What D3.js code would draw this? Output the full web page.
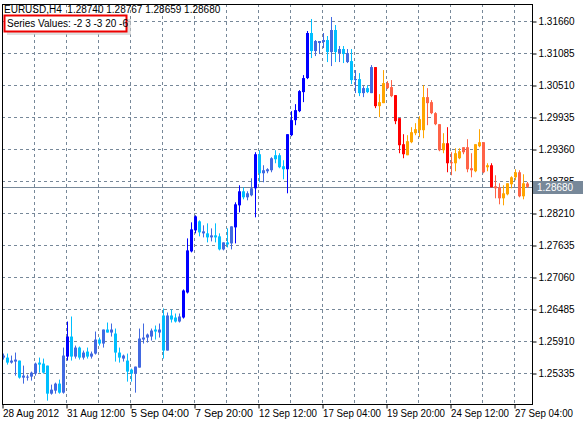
<!DOCTYPE html>
<html><head><meta charset="utf-8">
<script src="https://cdn.jsdelivr.net/npm/d3@7"></script>
<style>body{margin:0;background:#fff;}svg{display:block;font-family:"DejaVu Sans",sans-serif;}</style>
</head><body>
<script>
const high=[1.25684,1.25684,1.25648,1.25702,1.25558,1.25468,1.25306,1.25360,1.25522,1.25612,1.25594,1.25468,1.25126,1.25162,1.25216,1.25792,1.26260,1.26350,1.25828,1.25810,1.25738,1.25792,1.25720,1.26080,1.25972,1.26116,1.26242,1.26224,1.26134,1.25792,1.25666,1.25684,1.25414,1.25450,1.26134,1.26224,1.26044,1.26134,1.26188,1.26224,1.26494,1.26422,1.26476,1.26404,1.26404,1.26836,1.27754,1.28042,1.28168,1.28078,1.27988,1.28024,1.27934,1.28024,1.27844,1.27682,1.27934,1.27970,1.28402,1.28708,1.28672,1.28600,1.28834,1.29302,1.29338,1.29068,1.29014,1.29212,1.29338,1.29284,1.29158,1.29626,1.30040,1.30166,1.30418,1.30688,1.31480,1.31696,1.31318,1.31300,1.31444,1.31390,1.31732,1.31588,1.31210,1.31210,1.31156,1.31156,1.30778,1.30724,1.30490,1.30508,1.30868,1.30832,1.30346,1.30778,1.30580,1.30598,1.30328,1.29914,1.29626,1.29608,1.29752,1.29824,1.29950,1.30508,1.30454,1.30238,1.30022,1.29806,1.29644,1.29752,1.29302,1.29374,1.29374,1.29392,1.29536,1.29284,1.29446,1.29716,1.29482,1.29104,1.29104,1.28888,1.28744,1.28708,1.28744,1.28870,1.28996,1.28978,1.28906,1.28767];
const low=[1.25576,1.25486,1.25504,1.25288,1.25234,1.25144,1.25198,1.25198,1.25288,1.25342,1.25324,1.24838,1.24946,1.24964,1.24964,1.24964,1.25558,1.25558,1.25594,1.25576,1.25576,1.25594,1.25594,1.25666,1.25828,1.25792,1.26062,1.25990,1.25540,1.25522,1.25540,1.25180,1.25180,1.24982,1.25432,1.25864,1.25882,1.25918,1.25936,1.25972,1.25594,1.25738,1.26242,1.26242,1.26242,1.26314,1.26764,1.27502,1.27844,1.27790,1.27772,1.27682,1.27700,1.27682,1.27538,1.27538,1.27592,1.27556,1.27664,1.28222,1.28456,1.28438,1.28510,1.28132,1.28762,1.28762,1.28924,1.28942,1.29104,1.29014,1.28816,1.28564,1.29590,1.29788,1.30022,1.30202,1.30616,1.30994,1.31030,1.31066,1.31174,1.30922,1.30850,1.30922,1.30922,1.30904,1.30904,1.30526,1.30364,1.30310,1.30292,1.30364,1.30364,1.30094,1.29932,1.30184,1.30436,1.30292,1.29806,1.29284,1.29194,1.29248,1.29464,1.29608,1.29572,1.29554,1.29788,1.29986,1.29788,1.29320,1.29284,1.28942,1.28888,1.28960,1.29176,1.29266,1.28942,1.28852,1.28942,1.29392,1.28924,1.28960,1.28672,1.28474,1.28366,1.28348,1.28528,1.28654,1.28798,1.28492,1.28456,1.28659];
const open=[1.25612,1.25522,1.25522,1.25540,1.25252,1.25252,1.25252,1.25270,1.25324,1.25486,1.25342,1.24964,1.24964,1.25018,1.24982,1.24982,1.25630,1.25630,1.25630,1.25612,1.25612,1.25630,1.25630,1.25684,1.25864,1.25864,1.26062,1.26062,1.25702,1.25612,1.25594,1.25360,1.25324,1.25324,1.25432,1.25936,1.25972,1.25990,1.26080,1.26062,1.25738,1.25738,1.26296,1.26260,1.26260,1.26332,1.26782,1.27520,1.27898,1.27862,1.27844,1.27772,1.27772,1.27772,1.27556,1.27556,1.27646,1.27664,1.27952,1.28348,1.28492,1.28492,1.28528,1.28654,1.28924,1.28924,1.28960,1.28978,1.29176,1.29032,1.28996,1.28996,1.29608,1.29878,1.30040,1.30382,1.30634,1.31120,1.31120,1.31264,1.31282,1.31102,1.31102,1.31102,1.31084,1.31066,1.30922,1.30598,1.30598,1.30364,1.30364,1.30382,1.30364,1.30832,1.30202,1.30544,1.30544,1.30472,1.30328,1.29914,1.29446,1.29500,1.29662,1.29716,1.29896,1.30292,1.30292,1.30202,1.30004,1.29806,1.29464,1.29464,1.29122,1.29284,1.29320,1.29392,1.29392,1.29014,1.29446,1.29482,1.29482,1.29068,1.29068,1.28690,1.28672,1.28564,1.28744,1.28852,1.28942,1.28942,1.28744,1.28740];
const close=[1.25648,1.25612,1.25558,1.25576,1.25558,1.25288,1.25270,1.25342,1.25504,1.25522,1.25504,1.25468,1.25036,1.25144,1.25144,1.25648,1.25990,1.25990,1.25792,1.25792,1.25702,1.25720,1.25684,1.25936,1.25936,1.26116,1.26116,1.26116,1.26044,1.25702,1.25648,1.25558,1.25396,1.25450,1.25954,1.25972,1.26026,1.26098,1.26116,1.26116,1.26368,1.26368,1.26368,1.26332,1.26350,1.26818,1.27538,1.27916,1.28150,1.28060,1.27880,1.27844,1.27808,1.27808,1.27790,1.27682,1.27682,1.27970,1.28366,1.28600,1.28600,1.28564,1.28654,1.29266,1.29266,1.28978,1.28996,1.29194,1.29248,1.29248,1.29050,1.29626,1.29878,1.30058,1.30400,1.30634,1.31444,1.31444,1.31300,1.31300,1.31318,1.31318,1.31498,1.31498,1.31156,1.31156,1.31084,1.30940,1.30616,1.30616,1.30454,1.30454,1.30832,1.30130,1.30130,1.30184,1.30454,1.30310,1.29860,1.29428,1.29266,1.29248,1.29482,1.29644,1.29698,1.29698,1.30184,1.30004,1.29806,1.29338,1.29338,1.29104,1.29104,1.29104,1.29194,1.29302,1.28996,1.28978,1.28960,1.29410,1.28942,1.29032,1.28672,1.28654,1.28474,1.28474,1.28546,1.28726,1.28852,1.28510,1.28510,1.28680];
// colour index: 0 blue,1 royalblue,2 deepskyblue,3 red,4 tomato,5 orange
const colorIdx=[1,2,1,1,2,1,1,1,1,2,2,2,1,1,2,1,0,2,1,2,1,2,1,1,2,1,2,1,2,2,1,2,2,1,1,1,1,1,2,1,2,1,2,2,1,0,0,0,0,2,1,2,1,2,2,1,2,1,0,0,2,1,1,0,2,1,1,1,2,2,2,0,0,0,0,0,0,2,1,1,1,2,1,2,1,2,1,2,1,2,1,2,1,3,5,5,4,4,3,3,3,5,5,5,5,5,4,4,4,4,5,3,4,5,5,4,4,4,5,5,4,5,3,4,4,5,5,5,5,4,5,4];
const palette=["#0000FF","#4169E1","#00BFFF","#FF0000","#FF6347","#FFA500"];
const yTicks=[1.25335,1.25910,1.26485,1.27060,1.27635,1.28210,1.28785,1.29360,1.29935,1.30510,1.31085,1.31660];
const xTickLabels=["28 Aug 2012","31 Aug 12:00","5 Sep 04:00","7 Sep 20:00","12 Sep 12:00","17 Sep 04:00","19 Sep 20:00","24 Sep 12:00","27 Sep 04:00"];
const xTickIdx=[0,16,32,48,64,80,96,112,128];
const lastPrice=1.28680;
const title="EURUSD,H4  1.28740 1.28767 1.28659 1.28680";
const seriesText="Series Values: -2 3 -3 20 -6";

const W=585,H=426,L=2,R=532,T=4,B=404;
const FF="Liberation Sans, sans-serif", FS=10;
const svg=d3.select("body").append("svg").attr("width",W).attr("height",H);
const x=d3.scaleLinear().domain([0,1]).range([3,7]);
const y=d3.scaleLinear().domain([1.25335,1.31660]).range([373,21]);
const grid="#778899";
const g=svg.append("g");
for(let k=1;k<=16;k++){const gx=L+32*k;g.append("line").attr("x1",gx+0.5).attr("x2",gx+0.5).attr("y1",T).attr("y2",B).attr("stroke",grid).attr("stroke-dasharray","3,3");}
yTicks.forEach(v=>{const yy=Math.round(y(v))+0.5;g.append("line").attr("x1",L).attr("x2",R).attr("y1",yy).attr("y2",yy).attr("stroke",grid).attr("stroke-dasharray","3,3");});
svg.append("line").attr("x1",L).attr("x2",R).attr("y1",Math.round(y(lastPrice))+0.5).attr("y2",Math.round(y(lastPrice))+0.5).attr("stroke",grid);
const cg=svg.append("g");
high.forEach((h,i)=>{
  const cx=Math.round(x(i))+0.5, c=palette[colorIdx[i]];
  cg.append("line").attr("x1",cx).attr("x2",cx).attr("y1",y(h)).attr("y2",y(low[i])).attr("stroke",c);
  const t=y(Math.max(open[i],close[i])), b=y(Math.min(open[i],close[i]));
  cg.append("rect").attr("x",cx-1.5).attr("width",3).attr("y",t).attr("height",Math.max(1,b-t)).attr("fill",c);
});
svg.append("rect").attr("x",L+0.5).attr("y",T+0.5).attr("width",R-L).attr("height",B-T).attr("fill","none").attr("stroke","#000");
const yAxis=d3.axisRight(y).tickValues(yTicks).tickSize(4).tickFormat(d3.format(".5f"));
const ya=svg.append("g").attr("transform",`translate(${R+0.5},0.5)`).call(yAxis);
ya.select(".domain").remove();
ya.selectAll("text").attr("font-size",FS).attr("fill","#000").attr("font-family",FF).attr("x",6);
ya.selectAll("line").attr("stroke","#000");
const xa=d3.axisBottom(d3.scaleLinear().domain([0,4]).range([L,L+16])).tickValues(xTickIdx).tickSize(4).tickFormat((d,i)=>xTickLabels[i]);
const xg=svg.append("g").attr("transform",`translate(0.5,${B+0.5})`).call(xa);
xg.select(".domain").remove();
xg.selectAll("line").attr("stroke","#000");
xg.selectAll("text").attr("text-anchor","start").attr("font-size",FS).attr("fill","#000").attr("font-family",FF).attr("dy","0.55em").attr("textLength",d=>d===0?56:58).attr("lengthAdjust","spacingAndGlyphs");
const py=Math.round(y(lastPrice));
svg.append("rect").attr("x",R+1).attr("y",py-6).attr("width",50).attr("height",13).attr("fill","#778899");
svg.append("text").attr("x",R+5).attr("y",py+4).attr("fill","#fff").attr("font-size",FS).attr("font-family",FF).text(lastPrice.toFixed(5));
svg.append("text").attr("x",4).attr("y",13).attr("font-size",FS).attr("font-family",FF).text(title).style("white-space","pre");
svg.append("rect").attr("x",7).attr("y",19).attr("width",124).attr("height",16).attr("fill","#ccc").attr("opacity",0.6);
svg.append("rect").attr("x",4.5).attr("y",15.5).attr("width",122).attr("height",16).attr("fill","#fff").attr("stroke","#e00").attr("stroke-width",2);
svg.append("text").attr("x",7).attr("y",27).attr("font-size",FS).attr("font-family",FF).text(seriesText);
</script>
</body></html>
